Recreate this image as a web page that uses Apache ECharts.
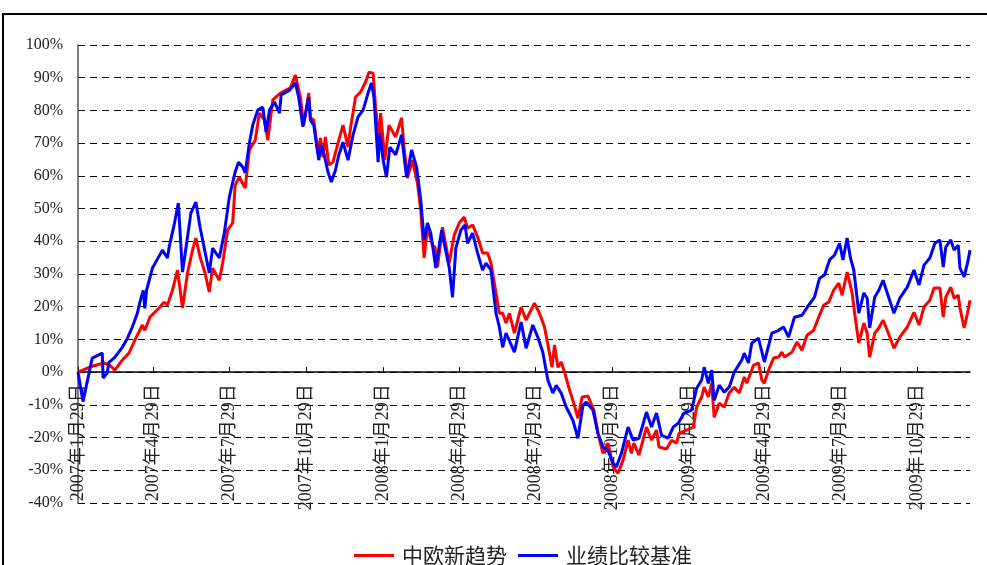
<!DOCTYPE html>
<html>
<head>
<meta charset="utf-8">
<script src="https://cdn.jsdelivr.net/npm/echarts/dist/echarts.min.js"></script>
<style>html,body{margin:0;padding:0;background:#fff;}#c{width:987px;height:565px;}</style>
</head>
<body>
<div id="c"></div>
<script>
const startDate = '2007-01-29';
const endDate = '2009-12-31';
const tickDates = ['2007-01-29','2007-04-29','2007-07-29','2007-10-29','2008-01-29','2008-04-29','2008-07-29','2008-10-29','2009-01-29','2009-04-29','2009-07-29','2009-10-29'];
const tickLabels = ['2007年1月29日','2007年4月29日','2007年7月29日','2007年10月29日','2008年1月29日','2008年4月29日','2008年7月29日','2008年10月29日','2009年1月29日','2009年4月29日','2009年7月29日','2009年10月29日'];
const seriesNames = ['中欧新趋势','业绩比较基准'];
const yMin = -40, yMax = 100, yStep = 10;

const redDates = ['2007-01-29','2007-02-15','2007-03-01','2007-03-08','2007-03-14','2007-03-23','2007-03-31','2007-04-07','2007-04-16','2007-04-19','2007-04-25','2007-05-06','2007-05-12','2007-05-16','2007-05-22','2007-05-28','2007-06-03','2007-06-09','2007-06-15','2007-06-19','2007-06-24','2007-06-30','2007-07-05','2007-07-09','2007-07-17','2007-07-21','2007-07-27','2007-08-02','2007-08-05','2007-08-10','2007-08-17','2007-08-22','2007-08-29','2007-09-03','2007-09-09','2007-09-13','2007-09-19','2007-09-28','2007-10-10','2007-10-16','2007-10-22','2007-10-26','2007-11-01','2007-11-03','2007-11-07','2007-11-12','2007-11-15','2007-11-18','2007-11-21','2007-11-25','2007-11-30','2007-12-06','2007-12-12','2007-12-18','2007-12-21','2007-12-27','2008-01-02','2008-01-08','2008-01-12','2008-01-17','2008-01-20','2008-01-24','2008-01-26','2008-01-31','2008-02-05','2008-02-13','2008-02-20','2008-02-23','2008-02-27','2008-03-04','2008-03-10','2008-03-14','2008-03-18','2008-03-22','2008-03-28','2008-03-31','2008-04-03','2008-04-09','2008-04-17','2008-04-23','2008-04-29','2008-05-05','2008-05-09','2008-05-15','2008-05-21','2008-05-27','2008-06-02','2008-06-06','2008-06-12','2008-06-16','2008-06-20','2008-06-24','2008-06-28','2008-07-04','2008-07-12','2008-07-18','2008-07-22','2008-07-28','2008-08-03','2008-08-09','2008-08-15','2008-08-18','2008-08-21','2008-08-25','2008-08-29','2008-09-02','2008-09-08','2008-09-13','2008-09-18','2008-09-23','2008-09-30','2008-10-07','2008-10-12','2008-10-18','2008-10-24','2008-10-30','2008-11-05','2008-11-11','2008-11-17','2008-11-21','2008-11-24','2008-11-30','2008-12-09','2008-12-15','2008-12-21','2008-12-24','2009-01-02','2009-01-08','2009-01-14','2009-01-17','2009-01-26','2009-02-03','2009-02-07','2009-02-13','2009-02-16','2009-02-21','2009-02-25','2009-02-28','2009-03-06','2009-03-12','2009-03-18','2009-03-24','2009-03-30','2009-04-05','2009-04-08','2009-04-16','2009-04-22','2009-04-26','2009-04-29','2009-05-04','2009-05-10','2009-05-16','2009-05-20','2009-05-23','2009-06-01','2009-06-07','2009-06-13','2009-06-19','2009-06-27','2009-07-03','2009-07-09','2009-07-15','2009-07-21','2009-07-27','2009-07-31','2009-08-06','2009-08-12','2009-08-15','2009-08-20','2009-08-26','2009-08-30','2009-09-02','2009-09-08','2009-09-13','2009-09-18','2009-09-23','2009-10-01','2009-10-08','2009-10-17','2009-10-25','2009-10-31','2009-11-06','2009-11-13','2009-11-18','2009-11-25','2009-11-29','2009-12-02','2009-12-08','2009-12-12','2009-12-17','2009-12-19','2009-12-24','2009-12-28','2009-12-31'];
const redValues = [0,1.8,2.8,2.1,0.6,3.7,5.8,9.8,14.4,12.8,16.8,19.6,21.4,20.5,25,31.2,19.6,30.3,37.3,41,35.2,30.3,24.5,31.8,28.1,33.3,43.4,45.6,57.2,59.6,56.3,67.9,70.9,79.2,77.1,70.9,83.2,85.3,86.9,90.8,84.1,75.5,85.3,77.7,77.1,67,71.6,65.7,71.9,63.3,64.2,70,75.5,68.8,74.6,84.1,85.6,88.7,91.7,91.4,81,70.9,79.2,64.8,75.5,71.9,77.7,68.8,59.3,64.8,57.8,49.5,34.9,44.3,38.8,38.2,32.1,44.3,33.3,41.9,45.6,47.4,44,45,41.3,36.4,36.4,33.3,24.2,18,18,15,18,11.9,19.9,15.9,18,21.1,18,13.8,5.8,1.5,8.3,1.5,3.1,0,-5.5,-9.5,-14.1,-7.6,-7.3,-11.6,-18.7,-24.8,-21.7,-29,-30.9,-26.9,-20.8,-24.8,-21.7,-25.4,-16.8,-20.8,-17.7,-22.9,-23.5,-20.8,-21.7,-18.7,-17.7,-16.8,-10.7,-7.6,-4.6,-7.6,-3.4,-13.8,-9.5,-10.7,-6.4,-4.6,-6.4,-1.5,-3.4,2.1,2.8,-2.4,-3.4,0.6,4.3,4.6,6.1,4.6,6.1,9.2,6.7,11.3,12.8,16.8,20.5,21.4,25.1,27.2,23.5,30.6,24.2,18,8.9,15,11.9,4.6,11.9,13.5,15.9,12.8,7.3,10.7,13.8,18.3,14.4,19.9,22,25.7,25.7,16.8,22.9,26,22.6,23.5,19.6,13.5,18,22];

const blueDates = ['2007-01-29','2007-02-04','2007-02-15','2007-02-27','2007-02-28','2007-03-05','2007-03-07','2007-03-14','2007-03-23','2007-03-29','2007-04-04','2007-04-10','2007-04-13','2007-04-17','2007-04-19','2007-04-21','2007-04-28','2007-05-10','2007-05-16','2007-05-18','2007-05-24','2007-05-29','2007-06-03','2007-06-09','2007-06-13','2007-06-19','2007-06-24','2007-06-30','2007-07-05','2007-07-09','2007-07-17','2007-07-23','2007-07-29','2007-08-05','2007-08-09','2007-08-14','2007-08-17','2007-08-22','2007-08-26','2007-09-01','2007-09-07','2007-09-11','2007-09-15','2007-09-21','2007-09-27','2007-09-29','2007-10-09','2007-10-16','2007-10-20','2007-10-25','2007-11-01','2007-11-03','2007-11-07','2007-11-13','2007-11-16','2007-11-19','2007-11-24','2007-11-28','2007-12-03','2007-12-07','2007-12-12','2007-12-18','2007-12-24','2007-12-30','2008-01-05','2008-01-11','2008-01-15','2008-01-18','2008-01-23','2008-01-25','2008-01-29','2008-02-02','2008-02-06','2008-02-13','2008-02-20','2008-02-26','2008-03-03','2008-03-09','2008-03-14','2008-03-18','2008-03-22','2008-03-26','2008-04-01','2008-04-08','2008-04-12','2008-04-17','2008-04-21','2008-04-25','2008-05-01','2008-05-06','2008-05-09','2008-05-15','2008-05-21','2008-05-27','2008-05-31','2008-06-06','2008-06-12','2008-06-16','2008-06-20','2008-06-24','2008-07-04','2008-07-12','2008-07-18','2008-07-26','2008-08-01','2008-08-07','2008-08-13','2008-08-19','2008-08-23','2008-08-29','2008-09-04','2008-09-12','2008-09-18','2008-09-24','2008-09-28','2008-10-06','2008-10-12','2008-10-18','2008-10-24','2008-10-30','2008-11-03','2008-11-09','2008-11-17','2008-11-23','2008-11-30','2008-12-09','2008-12-15','2008-12-21','2008-12-27','2009-01-04','2009-01-10','2009-01-16','2009-01-23','2009-02-01','2009-02-07','2009-02-13','2009-02-16','2009-02-21','2009-02-25','2009-02-28','2009-03-06','2009-03-12','2009-03-18','2009-03-24','2009-04-02','2009-04-05','2009-04-10','2009-04-14','2009-04-22','2009-04-29','2009-05-08','2009-05-16','2009-05-22','2009-05-28','2009-06-04','2009-06-13','2009-06-21','2009-06-28','2009-07-04','2009-07-10','2009-07-16','2009-07-22','2009-07-28','2009-08-01','2009-08-06','2009-08-10','2009-08-14','2009-08-20','2009-08-26','2009-08-30','2009-09-02','2009-09-08','2009-09-13','2009-09-18','2009-09-23','2009-10-01','2009-10-08','2009-10-17','2009-10-25','2009-10-31','2009-11-06','2009-11-13','2009-11-19','2009-11-25','2009-11-29','2009-12-02','2009-12-08','2009-12-12','2009-12-17','2009-12-19','2009-12-24','2009-12-28','2009-12-31'];
const blueValues = [0,-9,4.3,5.8,-1.8,-0.3,3,4.5,7.6,10.3,13.8,18,21.4,25,19.5,25,31.8,37.3,34.9,38.2,45,51.7,30.6,41.3,48.6,52,44.3,36.7,30.3,37.9,34.9,42.5,53.5,61.2,64.2,62.7,60.9,70,75.5,80.1,81,73.4,80.1,82.6,79.2,84.7,86.2,88.4,84,75,84.1,77.1,75.5,64.8,69.4,67,61.2,58.1,61.8,66.4,70.3,64.8,72.5,78,80.1,85.3,88.4,84.1,64.2,73.1,64.8,59.6,68.8,66.4,72.5,59.6,67.9,62.7,52.6,40.4,45.6,42.5,31.8,43.4,38.2,32.1,22.9,37.9,43.4,45,39.4,42.5,36.4,31.2,33.3,31.2,18,13.8,7.6,11.9,6.1,15.3,7.3,14.4,10.7,6.1,-2.4,-6.4,-4,-6.4,-10.7,-14.7,-20.2,-10.1,-9.2,-11.6,-18.7,-22.9,-23.9,-27.8,-29,-24.8,-16.8,-20.8,-20.2,-12.2,-16.8,-12.5,-19.3,-20.2,-16.8,-15.6,-12.5,-11.6,-4.9,-2.4,1.5,-3.4,0.6,-8.6,-4,-6.1,-4.6,0,3.7,5.8,2.8,8.9,10.4,3.1,11.9,12.8,13.8,10.7,16.8,17.4,20.5,22.9,28.7,29.7,34.3,35.8,39.4,34.3,41,34.9,31.2,18,24.2,22.6,13.5,22.9,25.1,28.1,24.2,18,22.6,26,31.2,26.6,32.7,34.9,39.4,40.4,32.1,38.2,40.4,37.3,38.8,31.8,29.1,33.3,37.3];

function parseDay(s) {
  const p = s.split('-').map(Number);
  return Date.UTC(p[0], p[1] - 1, p[2]);
}
const tickTimes = tickDates.map(parseDay);
function pairs(dates, values) {
  return dates.map((d, i) => [parseDay(d), values[i]]);
}

const W = 987, H = 565;
const gridLeft = 78, gridRight = 17, gridTop = 45, gridBottom = 62;
const plotH = H - gridTop - gridBottom;
// shift the x axis (line, ticks, labels) up to the 0% level
const zeroOffset = -plotH * (0 - yMin) / (yMax - yMin);

const chart = echarts.init(document.getElementById('c'), null, {renderer: 'canvas', width: W, height: H});
chart.setOption({
  animation: false,
  backgroundColor: '#fff',
  graphic: [{
    type: 'rect',
    shape: {x: 3, y: 14, width: 1000, height: 600},
    style: {fill: 'none', stroke: '#000', lineWidth: 2},
    z: -10
  }],
  grid: {left: gridLeft, right: gridRight, top: gridTop, bottom: gridBottom, containLabel: false, outerBoundsMode: 'none'},
  legend: {
    data: seriesNames,
    left: 349, top: 540,
    icon: 'rect', itemWidth: 40, itemHeight: 3, itemGap: 11,
    textStyle: {fontSize: 21, fontFamily: 'Noto Sans CJK SC', color: '#222', padding: [0, 0, 0, 3]}
  },
  xAxis: {
    type: 'value',
    position: 'bottom',
    offset: zeroOffset,
    min: parseDay(startDate),
    max: parseDay(endDate),
    axisLine: {onZero: false, lineStyle: {color: '#000', width: 1.5}},
    axisTick: {show: true, inside: true, length: 5, customValues: tickTimes, lineStyle: {color: '#000'}},
    axisLabel: {
      customValues: tickTimes,
      rotate: 90,
      margin: 12,
      color: '#222',
      fontSize: 18,
      fontFamily: 'Liberation Serif, Noto Sans CJK SC',
      formatter: function (v) {
        const i = tickTimes.indexOf(v);
        return i >= 0 ? tickLabels[i] : '';
      }
    },
    splitLine: {show: false}
  },
  yAxis: {
    type: 'value',
    min: yMin, max: yMax, interval: yStep,
    axisLine: {show: true, onZero: false, lineStyle: {color: '#555', width: 1.5}},
    axisTick: {show: false},
    axisLabel: {formatter: '{value}%', fontSize: 16, fontFamily: 'Liberation Serif', color: '#222', margin: 15},
    splitLine: {show: true, lineStyle: {color: '#000', type: [7, 5], width: 1}}
  },
  series: [
    {name: seriesNames[0], type: 'line', data: pairs(redDates, redValues), symbol: 'none', showSymbol: false,
     itemStyle: {color: '#ff0000'}, lineStyle: {color: '#ff0000', width: 3}},
    {name: seriesNames[1], type: 'line', data: pairs(blueDates, blueValues), symbol: 'none', showSymbol: false,
     itemStyle: {color: '#0000ff'}, lineStyle: {color: '#0000ff', width: 3}}
  ]
});
</script>
</body>
</html>
